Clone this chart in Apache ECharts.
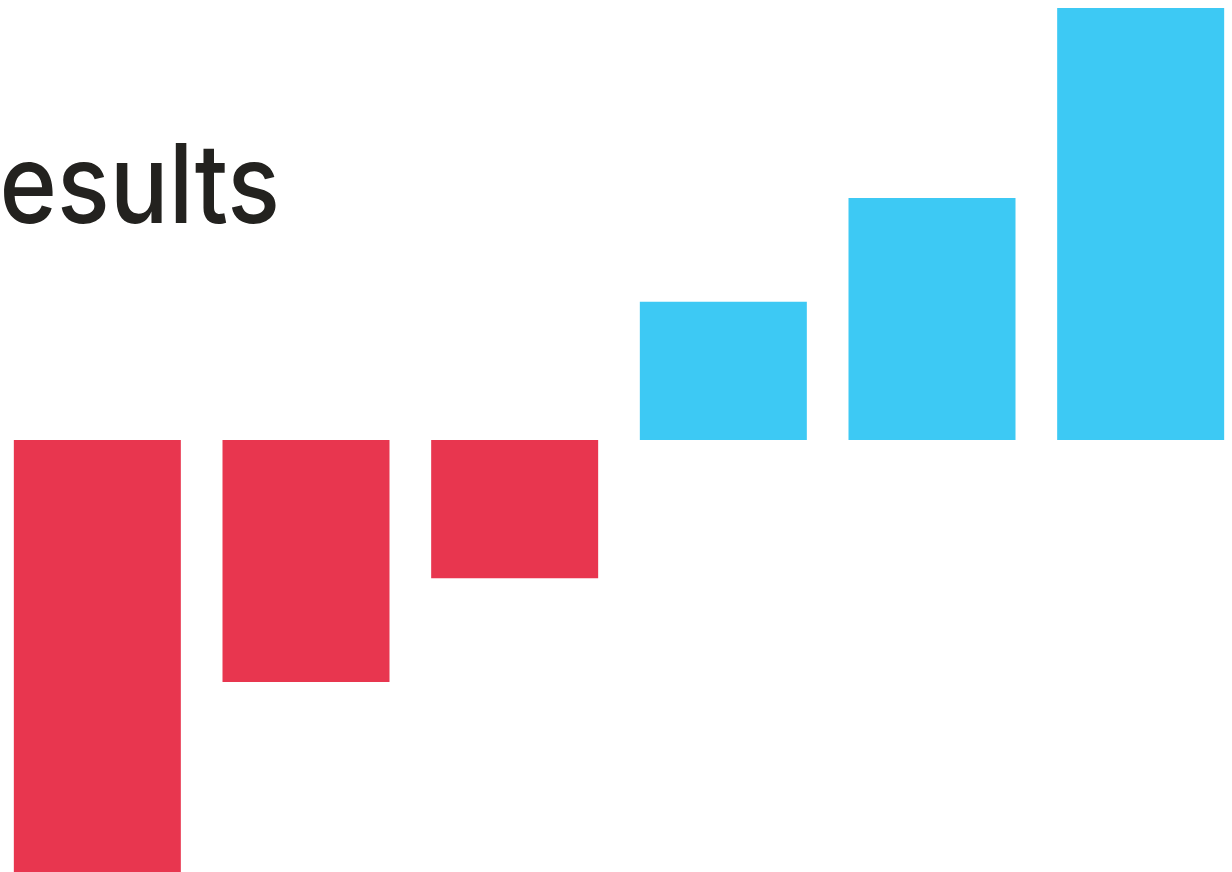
<!DOCTYPE html>
<html>
<head>
<meta charset="utf-8">
<title>Results</title>
<script src="https://cdn.jsdelivr.net/npm/echarts@6/dist/echarts.min.js"></script>
<style>
  html, body { margin: 0; padding: 0; background: #ffffff; }
  #chart { width: 1232px; height: 872px; }
</style>
</head>
<body>
<div id="chart"></div>
<script>
// Six periods: three losses followed by three gains
const categories = ['A', 'B', 'C', 'D', 'E', 'F'];
const values = [-100, -56, -32, 32, 56, 100];
const titleText = 'Results';

const NEG_COLOR = '#E8364F';
const POS_COLOR = '#3DC9F4';

const chart = echarts.init(document.getElementById('chart'), null, { renderer: 'canvas' });

chart.setOption({
  animation: false,
  backgroundColor: '#ffffff',
  grid: { left: -7, top: 8, width: 1252, height: 864, outerBoundsMode: 'none' },
  xAxis: {
    type: 'category',
    data: categories,
    show: false,
    axisLine: { show: false },
    axisTick: { show: false },
    axisLabel: { show: false }
  },
  yAxis: {
    type: 'value',
    min: -100,
    max: 100,
    show: false,
    splitLine: { show: false }
  },
  series: [{
    type: 'bar',
    barWidth: 167,
    data: values.map(v => ({
      value: v,
      itemStyle: { color: v < 0 ? NEG_COLOR : POS_COLOR }
    }))
  }],
  graphic: [{
    type: 'text',
    z: 10,
    x: 280,
    y: 190,
    scaleX: 0.89,
    style: {
      text: titleText,
      x: 0,
      y: 0,
      align: 'right',
      verticalAlign: 'middle',
      fill: '#23221F',
      font: '500 110px Inter, "Liberation Sans", sans-serif'
    }
  }]
});
</script>
</body>
</html>
